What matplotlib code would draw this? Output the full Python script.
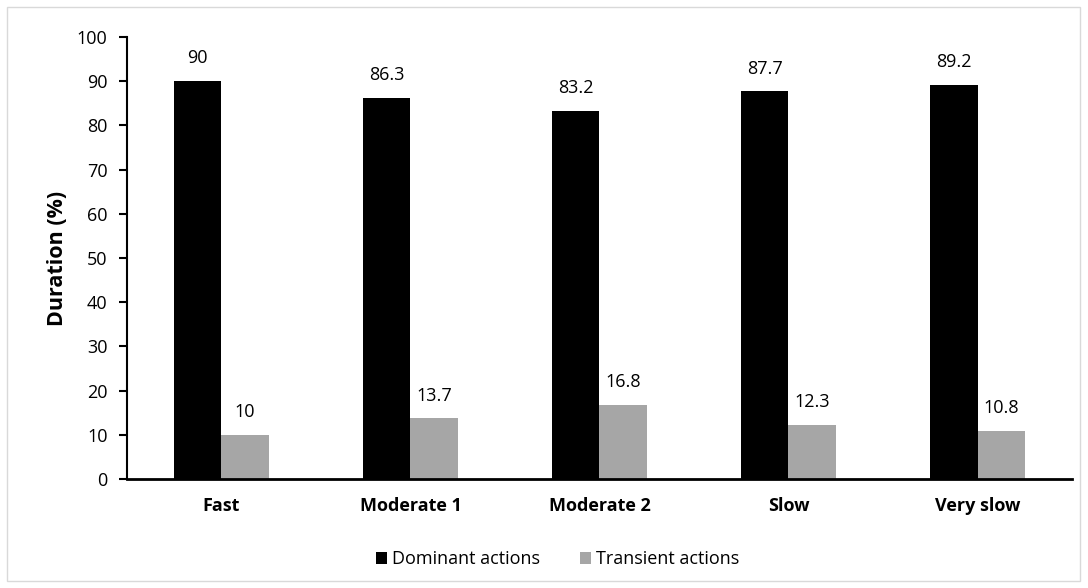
import matplotlib.pyplot as plt
import matplotlib.patches as mpatches
import numpy as np

categories = ['Fast', 'Moderate 1', 'Moderate 2', 'Slow', 'Very slow']
dominant = [90, 86.3, 83.2, 87.7, 89.2]
transient = [10, 13.7, 16.8, 12.3, 10.8]
dominant_labels = ['90', '86.3', '83.2', '87.7', '89.2']
transient_labels = ['10', '13.7', '16.8', '12.3', '10.8']

plt.rcParams['font.family'] = ['Open Sans', 'DejaVu Sans']

fig = plt.figure(figsize=(10.88, 5.88), dpi=100)
ax = fig.add_axes([0.1167, 0.1854, 0.8686, 0.7516])

x = np.arange(len(categories))
w = 0.25
b1 = ax.bar(x - w / 2, dominant, w, color='black', label='Dominant actions')
b2 = ax.bar(x + w / 2, transient, w, color='#a6a6a6', label='Transient actions')

for bars, labs in ((b1, dominant_labels), (b2, transient_labels)):
    for r, t in zip(bars, labs):
        ax.annotate(t, xy=(r.get_x() + r.get_width() / 2, r.get_height()),
                    xytext=(0, 10), textcoords='offset points',
                    ha='center', va='bottom', fontsize=13)

ax.set_xlim(-0.5, len(categories) - 0.5)
ax.set_ylim(0, 100)
ax.set_yticks(np.arange(0, 101, 10))
ax.set_xticks(x)
ax.set_xticklabels(categories, fontsize=13, fontweight='bold')
ax.tick_params(axis='x', length=0, pad=13)
ax.tick_params(axis='y', length=6, width=1.5, labelsize=13, pad=8)
ax.set_ylabel('Duration (%)', fontsize=15.5, fontweight='bold', labelpad=6)

for s in ['top', 'right']:
    ax.spines[s].set_visible(False)
ax.spines['left'].set_linewidth(1.5)
ax.spines['bottom'].set_linewidth(2)

ax.legend(loc='upper center', bbox_to_anchor=(0.456, -0.125), ncol=2, frameon=False,
          fontsize=13, handlelength=0.6, handleheight=0.6, handletextpad=0.3, columnspacing=2.2)

fig.patches.append(mpatches.Rectangle((0.006, 0.012), 0.987, 0.976, transform=fig.transFigure,
                                      fill=False, edgecolor='#d9d9d9', linewidth=1))

plt.savefig('out.png', dpi=100)
